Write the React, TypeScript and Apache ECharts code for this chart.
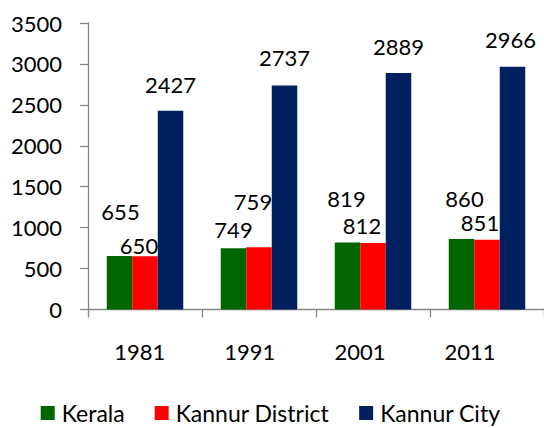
import React, { useEffect, useRef } from "react";
import * as echarts from "echarts";

const categories = ["1981", "1991", "2001", "2011"];
const kerala = [655, 749, 819, 860];
const kannurDistrict = [650, 759, 812, 851];
const kannurCity = [2427, 2737, 2889, 2966];
const seriesNames = ["Kerala", "Kannur District", "Kannur City"];
const colors = ["#006600", "#FF0000", "#002060"];

// manual label offsets [dx, dy] relative to bar top-center (Excel-style dragged labels)
const keralaLabelOffsets = [[1, -44], [0, -19], [-1, -44], [3, -41]];
const districtLabelOffsets = [[-6, -11], [-6, -46], [-11, -18], [-7, -17]];
const cityLabelOffsets = [[0, -26], [0, -28], [0, -27], [-2, -27]];

const FONT = "Lato, 'Open Sans', sans-serif";
const FS = 22;

export default function App() {
  const ref = useRef<HTMLDivElement>(null);
  useEffect(() => {
    if (!ref.current) return;
    const chart = echarts.init(ref.current, undefined, { renderer: "svg" });
    const mk = (name: string, vals: number[], offs: number[][], color: string) => ({
      name,
      type: "bar",
      xAxisIndex: 0,
      yAxisIndex: 0,
      barWidth: 25.5,
      barGap: "0%",
      itemStyle: { color },
      data: vals.map((v, i) => ({
        value: v,
        label: { offset: offs[i] },
      })),
      label: {
        show: true,
        position: "top",
        distance: 0,
        verticalAlign: "middle",
        color: "#000",
        fontFamily: FONT,
        fontSize: FS,
      },
    });
    chart.setOption({
      animation: false,
      grid: [
        { left: 88, right: -3, top: 23, bottom: 118.5, containLabel: false },
        { left: 84.7, right: 18.9, top: 23, bottom: 118.5, containLabel: false },
      ],
      legend: {
        data: seriesNames,
        left: 40.7,
        top: 401.5,
        padding: 0,
        itemWidth: 14,
        itemHeight: 14,
        itemGap: 30,
        icon: "rect",
        textStyle: { fontFamily: FONT, fontSize: 23, color: "#000", padding: [0, 0, 0, 2] },
      },
      xAxis: [
        {
          type: "category",
          gridIndex: 0,
          data: categories,
          axisLine: { lineStyle: { color: "#868686", width: 1.3 } },
          axisTick: { show: true, length: 8, lineStyle: { color: "#868686", width: 1.3 } },
          axisLabel: { show: false },
        },
        {
          type: "category",
          gridIndex: 1,
          data: categories,
          axisLine: { show: false },
          axisTick: { show: false },
          axisLabel: { show: true, margin: 31, color: "#000", fontFamily: FONT, fontSize: FS },
        },
      ],
      yAxis: [
        {
          type: "value",
          gridIndex: 0,
          min: 0,
          max: 3500,
          interval: 500,
          splitLine: { show: false },
          axisLine: { show: true, lineStyle: { color: "#868686", width: 1.3 } },
          axisTick: { show: true, length: 8, lineStyle: { color: "#868686", width: 1.3 } },
          axisLabel: {
            margin: 26,
            color: "#000",
            fontFamily: FONT,
            fontSize: FS,
            formatter: (v: number) => String(v),
          },
        },
        {
          type: "value",
          gridIndex: 1,
          min: 0,
          max: 3500,
          show: false,
        },
      ],
      series: [
        mk(seriesNames[0], kerala, keralaLabelOffsets, colors[0]),
        mk(seriesNames[1], kannurDistrict, districtLabelOffsets, colors[1]),
        mk(seriesNames[2], kannurCity, cityLabelOffsets, colors[2]),
      ],
    });
    return () => chart.dispose();
  }, []);
  return (
    <div
      ref={ref}
      style={{ position: "absolute", left: 0, top: 0, width: 544, height: 428 }}
    />
  );
}
